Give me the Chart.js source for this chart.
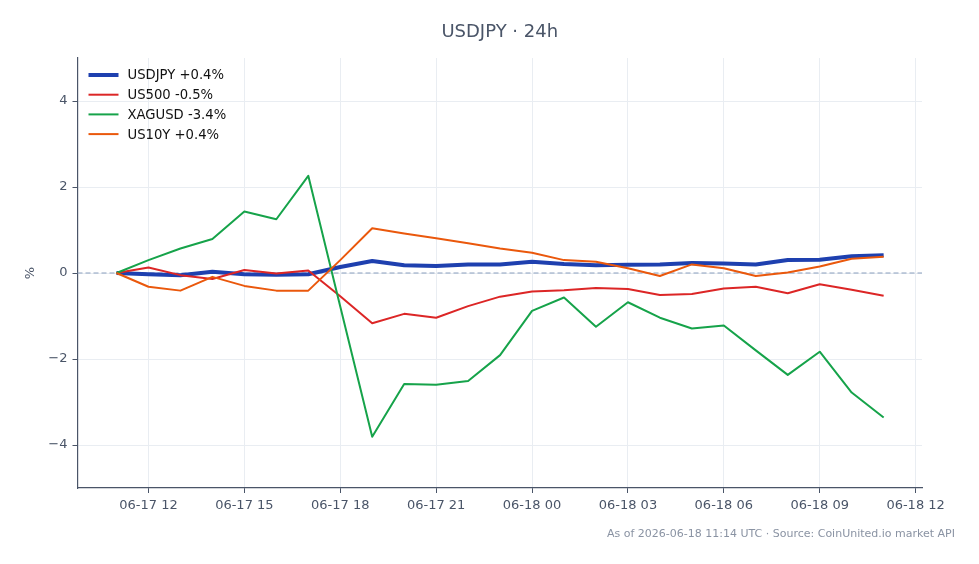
<!DOCTYPE html>
<html>
<head>
<meta charset="utf-8">
<script src="https://cdn.jsdelivr.net/npm/chart.js@4.4.1/dist/chart.umd.min.js"></script>
<style>
  html, body { margin: 0; padding: 0; background: #ffffff; }
  #wrap { width: 979px; height: 564px; position: relative; }
</style>
</head>
<body>
<div id="wrap"><canvas id="chart" width="979" height="564"></canvas></div>
<script>
// hourly samples, 06-17 11:00 UTC -> 06-18 11:00 UTC
const times = [
  '06-17 11', '06-17 12', '06-17 13', '06-17 14', '06-17 15', '06-17 16', '06-17 17',
  '06-17 18', '06-17 19', '06-17 20', '06-17 21', '06-17 22', '06-17 23',
  '06-18 00', '06-18 01', '06-18 02', '06-18 03', '06-18 04', '06-18 05',
  '06-18 06', '06-18 07', '06-18 08', '06-18 09', '06-18 10', '06-18 11'
];

// % change from start
const usdjpy = [0, -0.03, -0.05, 0.03, -0.03, -0.04, -0.03, 0.14, 0.28, 0.18, 0.16, 0.2, 0.2,
  0.26, 0.21, 0.18, 0.19, 0.2, 0.23, 0.22, 0.2, 0.3, 0.31, 0.39, 0.41];
const us500 = [0, 0.13, -0.05, -0.14, 0.07, -0.01, 0.06, -0.54, -1.17, -0.95, -1.04, -0.77, -0.55,
  -0.43, -0.4, -0.35, -0.37, -0.51, -0.49, -0.36, -0.32, -0.47, -0.26, -0.39, -0.53];
const xagusd = [0, 0.3, 0.57, 0.79, 1.43, 1.25, 2.26, -0.78, -3.81, -2.58, -2.6, -2.51, -1.91,
  -0.88, -0.57, -1.25, -0.68, -1.04, -1.29, -1.22, -1.8, -2.37, -1.83, -2.78, -3.36];
const us10y = [0, -0.32, -0.41, -0.09, -0.3, -0.41, -0.41, 0.3, 1.04, 0.92, 0.81, 0.69, 0.57,
  0.47, 0.3, 0.26, 0.11, -0.07, 0.2, 0.11, -0.07, 0.01, 0.15, 0.33, 0.38];

const seriesNames = ['USDJPY +0.4%', 'US500 -0.5%', 'XAGUSD -3.4%', 'US10Y +0.4%'];

// x tick positions are hour offsets from the first sample
const xTickPos = [1, 4, 7, 10, 13, 16, 19, 22, 25];
const xTickLabels = ['06-17 12', '06-17 15', '06-17 18', '06-17 21', '06-18 00',
  '06-18 03', '06-18 06', '06-18 09', '06-18 12'];
const yTicks = [-4, -2, 0, 2, 4];

const FONT = "'DejaVu Sans', sans-serif";
const AXIS = '#4a5568';
const GRID = '#e9edf2';

function pts(arr) {
  return arr.map((v, i) => ({ x: i, y: v }));
}

// 零线 + 标题 + 图例 + 脚注
const extras = {
  id: 'extras',
  beforeDatasetsDraw(chart) {
    const { ctx, chartArea, scales } = chart;
    const y0 = scales.y.getPixelForValue(0);
    ctx.save();
    ctx.strokeStyle = '#8a9fbd';
    ctx.lineWidth = 1;
    ctx.setLineDash([5, 3]);
    ctx.beginPath();
    ctx.moveTo(chartArea.left, y0);
    ctx.lineTo(chartArea.right, y0);
    ctx.stroke();
    ctx.restore();
  },
  afterDraw(chart) {
    const { ctx, chartArea } = chart;
    ctx.save();
    // title
    ctx.fillStyle = AXIS;
    ctx.font = '18px ' + FONT;
    ctx.textAlign = 'center';
    ctx.textBaseline = 'middle';
    ctx.fillText('USDJPY · 24h', (chartArea.left + chartArea.right) / 2, 32);

    // y label
    ctx.save();
    ctx.translate(31, (chartArea.top + chartArea.bottom) / 2);
    ctx.rotate(-Math.PI / 2);
    ctx.font = '13px ' + FONT;
    ctx.fillText('%', 0, 0);
    ctx.restore();

    // legend
    ctx.textAlign = 'left';
    ctx.font = '13.2px ' + FONT;
    chart.data.datasets.forEach((ds, i) => {
      const y = chartArea.top + 17 + i * 19.7;
      ctx.strokeStyle = ds.borderColor;
      ctx.lineWidth = ds.borderWidth;
      ctx.beginPath();
      ctx.moveTo(chartArea.left + 11, y);
      ctx.lineTo(chartArea.left + 41, y);
      ctx.stroke();
      ctx.fillStyle = '#111111';
      ctx.fillText(ds.label, chartArea.left + 50, y + 1);
    });

    // footer
    ctx.textAlign = 'right';
    ctx.fillStyle = '#8a93a3';
    ctx.font = '11px ' + FONT;
    ctx.fillText('As of 2026-06-18 11:14 UTC · Source: CoinUnited.io market API', 955, 534);
    ctx.restore();
  }
};

const ctx = document.getElementById('chart').getContext('2d');
new Chart(ctx, {
  type: 'line',
  data: {
    datasets: [
      { label: seriesNames[0], data: pts(usdjpy), borderColor: '#1e40af', borderWidth: 4, order: 4 },
      { label: seriesNames[1], data: pts(us500), borderColor: '#dc2626', borderWidth: 2, order: 3 },
      { label: seriesNames[2], data: pts(xagusd), borderColor: '#16a34a', borderWidth: 2, order: 2 },
      { label: seriesNames[3], data: pts(us10y), borderColor: '#ea580c', borderWidth: 2, order: 1 }
    ]
  },
  options: {
    responsive: false,
    animation: false,
    elements: {
      point: { radius: 0 },
      line: { tension: 0, borderJoinStyle: 'round', borderCapStyle: 'butt' }
    },
    layout: { padding: { top: 58, right: 57, bottom: 36, left: 0 } },
    plugins: {
      legend: { display: false },
      tooltip: { enabled: false },
      title: { display: false }
    },
    scales: {
      x: {
        type: 'linear',
        min: -1.22,
        max: 25.2,
        afterBuildTicks: (scale) => { scale.ticks = xTickPos.map(v => ({ value: v })); },
        afterFit: (scale) => { scale.height = 40; },
        ticks: {
          autoSkip: false,
          maxRotation: 0,
          padding: 5,
          color: AXIS,
          font: { family: FONT, size: 13 },
          callback: (v) => xTickLabels[xTickPos.indexOf(v)]
        },
        grid: { color: GRID, tickColor: AXIS, tickLength: 5, lineWidth: 1 },
        border: { display: true, color: AXIS, width: 1.2 }
      },
      y: {
        min: -5,
        max: 5,
        afterBuildTicks: (scale) => { scale.ticks = yTicks.map(v => ({ value: v })); },
        afterFit: (scale) => { scale.width = 77.5; },
        ticks: {
          padding: 5,
          color: AXIS,
          font: { family: FONT, size: 13 },
          callback: (v) => String(v).replace('-', '\u2212')
        },
        grid: { color: GRID, tickColor: AXIS, tickLength: 5, lineWidth: 1 },
        border: { display: true, color: AXIS, width: 1.2 }
      }
    }
  },
  plugins: [extras]
});
</script>
</body>
</html>
